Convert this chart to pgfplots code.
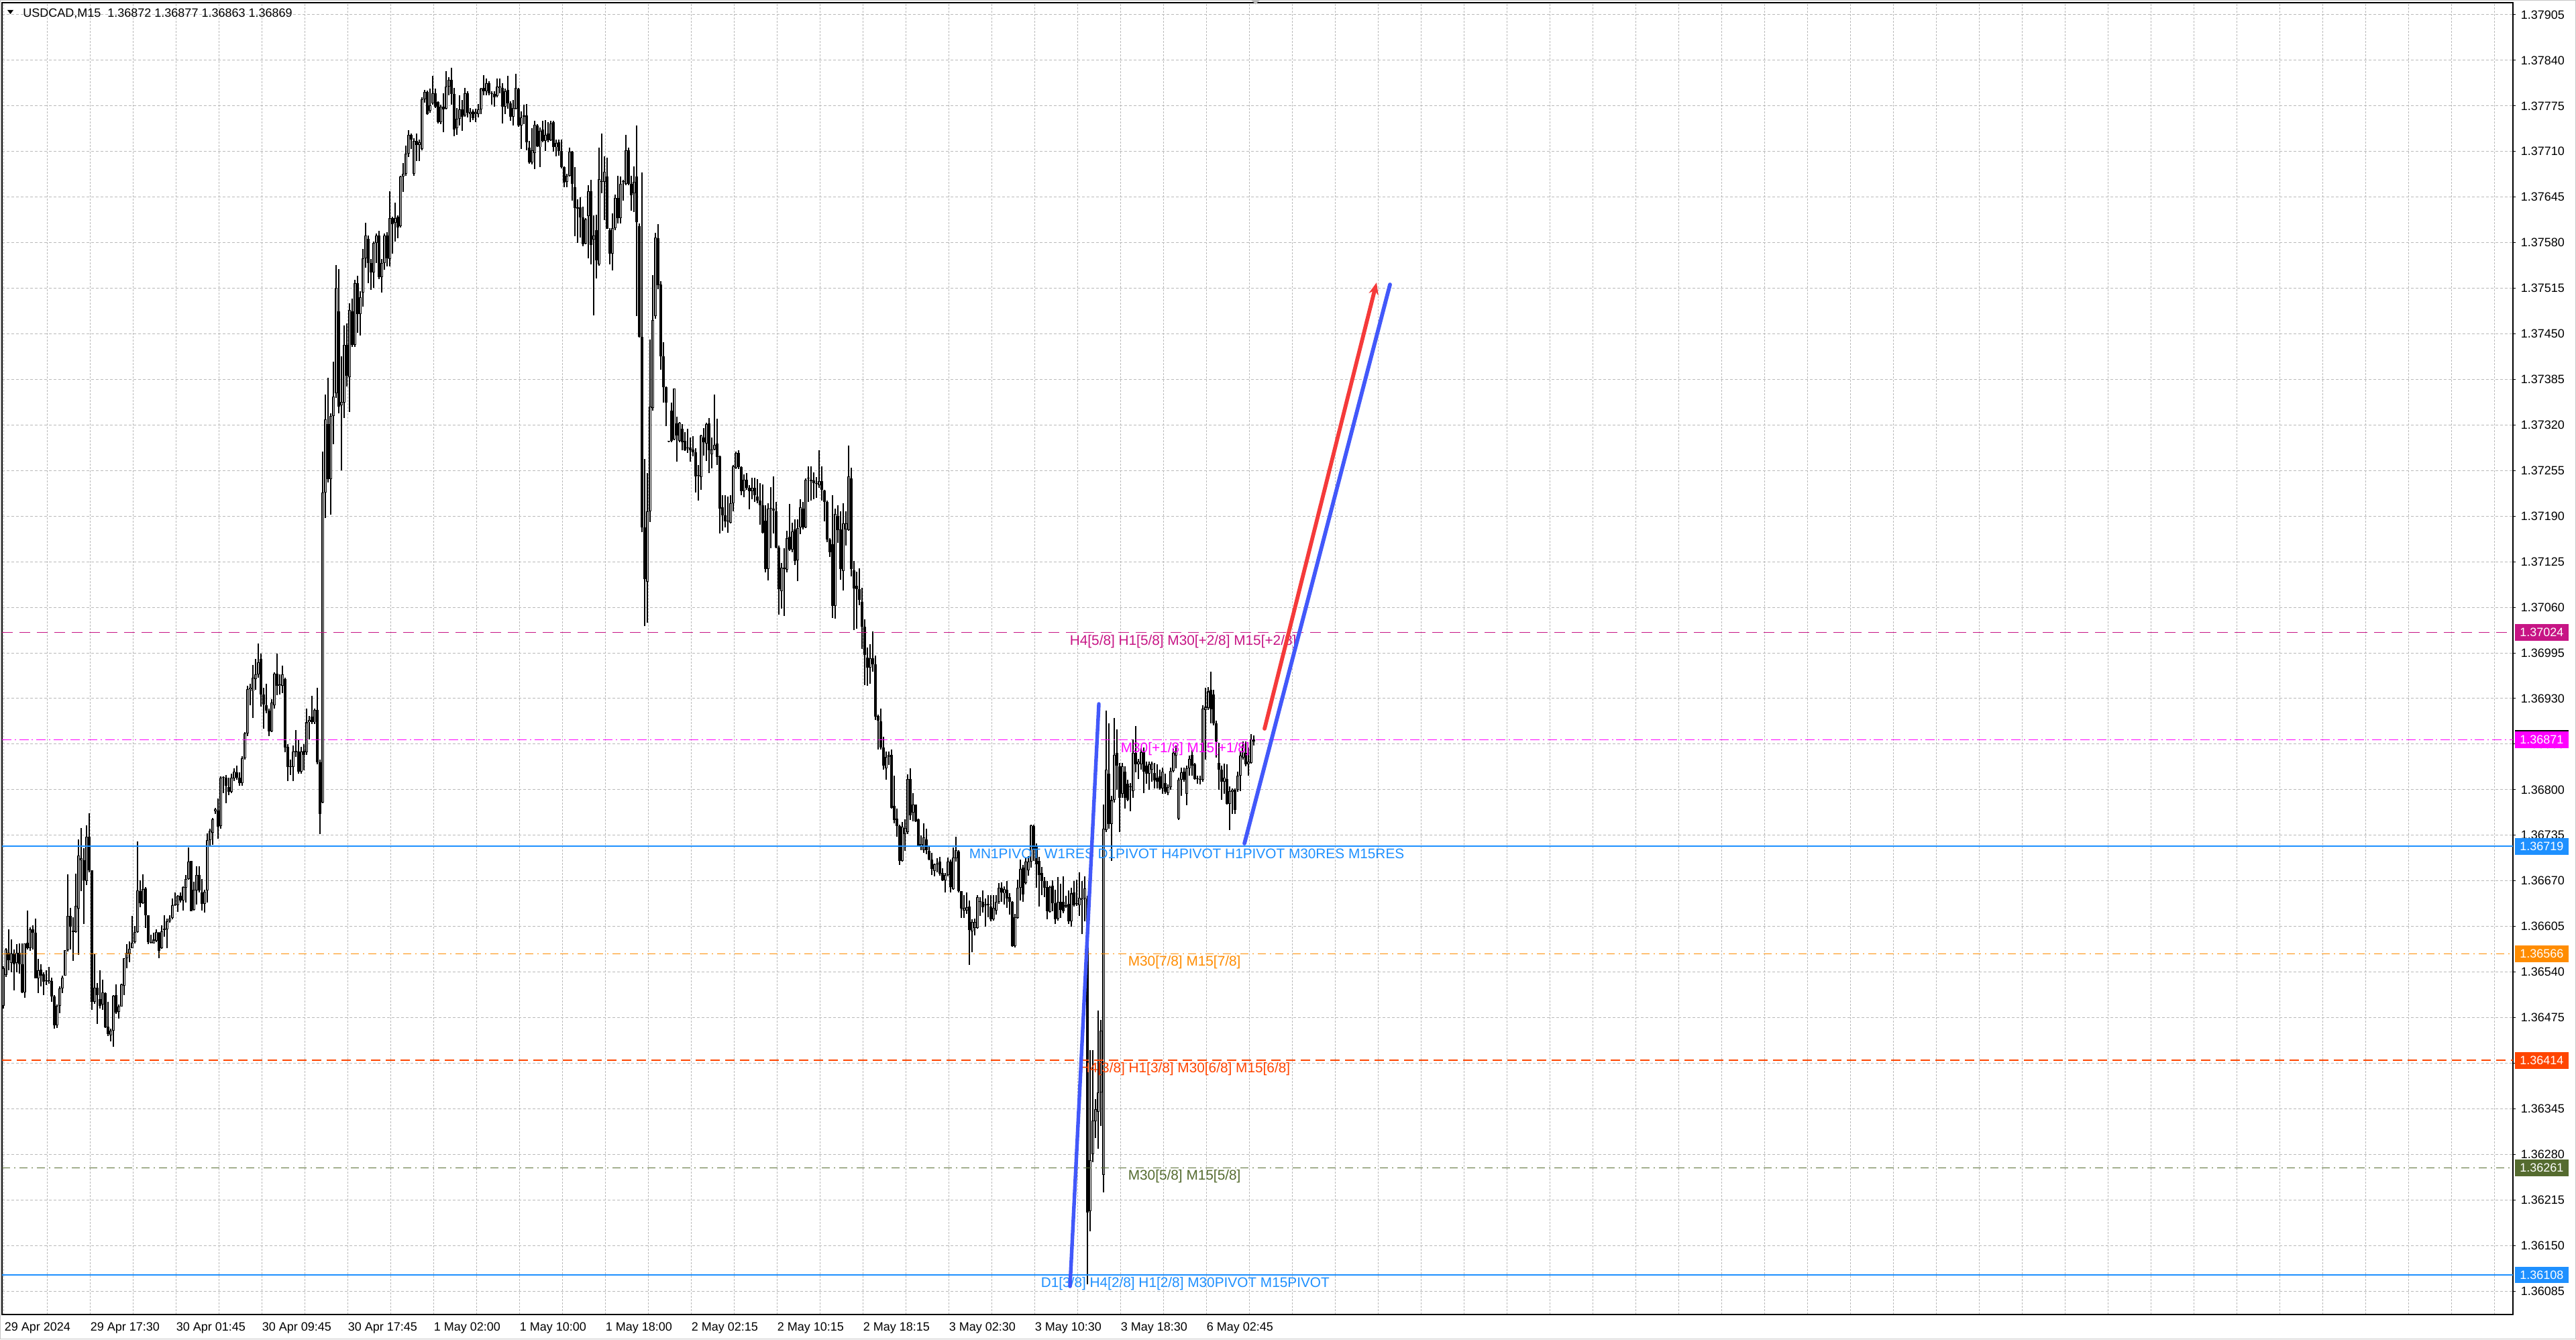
\documentclass[border=0pt]{standalone}
\usepackage{pgfplots}
\pgfplotsset{compat=1.18}
\usepackage{pgfplotstable}
\usepackage{fontspec}
\setmainfont{Liberation Sans}
\usetikzlibrary{arrows.meta}
\definecolor{mvr}{RGB}{199,21,133}
\definecolor{mag}{RGB}{255,0,255}
\definecolor{dblue}{RGB}{30,144,255}
\definecolor{dorange}{RGB}{255,140,0}
\definecolor{ored}{RGB}{255,69,0}
\definecolor{olivelvl}{RGB}{85,107,47}
\definecolor{tblue}{RGB}{66,88,250}
\definecolor{tred}{RGB}{245,58,58}
\newcommand{\tickfont}{\fontsize{4.5}{5}\selectfont}
\newcommand{\lblfont}{\fontsize{5.2}{6}\selectfont}

\pgfplotstableread{
i o h l c
0 1.36492 1.36548 1.36488 1.36545
1 1.36536 1.36574 1.36533 1.36572
2 1.36567 1.36601 1.36542 1.36557
3 1.36553 1.36586 1.36540 1.36566
4 1.36566 1.36572 1.36514 1.36551
5 1.36553 1.36580 1.36540 1.36567
6 1.36567 1.36581 1.36538 1.36551
7 1.36551 1.36581 1.36510 1.36511
8 1.36511 1.36581 1.36503 1.36581
9 1.36582 1.36628 1.36572 1.36574
10 1.36574 1.36604 1.36570 1.36601
11 1.36601 1.36607 1.36572 1.36596
12 1.36596 1.36616 1.36531 1.36531
13 1.36531 1.36559 1.36510 1.36542
14 1.36543 1.36551 1.36519 1.36535
15 1.36537 1.36540 1.36507 1.36526
16 1.36527 1.36542 1.36521 1.36526
17 1.36526 1.36547 1.36523 1.36528
18 1.36527 1.36532 1.36497 1.36505
19 1.36505 1.36507 1.36459 1.36464
20 1.36464 1.36494 1.36460 1.36492
21 1.36492 1.36519 1.36481 1.36517
22 1.36517 1.36535 1.36510 1.36532
23 1.36535 1.36571 1.36535 1.36571
24 1.36571 1.36679 1.36569 1.36620
25 1.36620 1.36631 1.36572 1.36605
26 1.36599 1.36618 1.36556 1.36597
27 1.36597 1.36680 1.36596 1.36634
28 1.36630 1.36729 1.36564 1.36706
29 1.36699 1.36745 1.36655 1.36702
30 1.36699 1.36717 1.36608 1.36671
31 1.36670 1.36749 1.36664 1.36733
32 1.36733 1.36766 1.36682 1.36685
33 1.36685 1.36685 1.36486 1.36497
34 1.36497 1.36566 1.36495 1.36518
35 1.36518 1.36524 1.36466 1.36507
36 1.36501 1.36542 1.36488 1.36492
37 1.36494 1.36529 1.36486 1.36511
38 1.36510 1.36511 1.36460 1.36461
39 1.36462 1.36497 1.36449 1.36452
40 1.36450 1.36459 1.36441 1.36456
41 1.36456 1.36507 1.36433 1.36506
42 1.36507 1.36522 1.36480 1.36482
43 1.36483 1.36494 1.36474 1.36491
44 1.36491 1.36523 1.36491 1.36522
45 1.36520 1.36560 1.36507 1.36560
46 1.36560 1.36580 1.36545 1.36567
47 1.36566 1.36584 1.36554 1.36573
48 1.36574 1.36620 1.36574 1.36582
49 1.36583 1.36606 1.36581 1.36597
50 1.36597 1.36726 1.36596 1.36656
51 1.36655 1.36671 1.36632 1.36638
52 1.36638 1.36679 1.36637 1.36658
53 1.36659 1.36661 1.36603 1.36621
54 1.36621 1.36621 1.36580 1.36583
55 1.36583 1.36593 1.36581 1.36582
56 1.36581 1.36596 1.36581 1.36586
57 1.36585 1.36601 1.36583 1.36597
58 1.36596 1.36597 1.36560 1.36570
59 1.36574 1.36607 1.36573 1.36598
60 1.36602 1.36621 1.36590 1.36600
61 1.36601 1.36616 1.36574 1.36612
62 1.36612 1.36621 1.36610 1.36616
63 1.36617 1.36645 1.36615 1.36635
64 1.36636 1.36653 1.36634 1.36635
65 1.36635 1.36650 1.36626 1.36649
66 1.36649 1.36653 1.36639 1.36642
67 1.36642 1.36662 1.36628 1.36661
68 1.36660 1.36678 1.36639 1.36673
69 1.36673 1.36718 1.36672 1.36697
70 1.36698 1.36698 1.36627 1.36627
71 1.36629 1.36669 1.36628 1.36657
72 1.36656 1.36691 1.36636 1.36678
73 1.36678 1.36691 1.36653 1.36656
74 1.36653 1.36673 1.36628 1.36637
75 1.36637 1.36657 1.36625 1.36654
76 1.36656 1.36738 1.36639 1.36728
77 1.36728 1.36744 1.36720 1.36741
78 1.36739 1.36760 1.36721 1.36758
79 1.36769 1.36774 1.36765 1.36772
80 1.36770 1.36787 1.36730 1.36747
81 1.36748 1.36819 1.36744 1.36817
82 1.36817 1.36819 1.36795 1.36818
83 1.36817 1.36821 1.36781 1.36806
84 1.36804 1.36817 1.36792 1.36797
85 1.36797 1.36823 1.36795 1.36817
86 1.36816 1.36830 1.36812 1.36826
87 1.36825 1.36834 1.36814 1.36817
88 1.36817 1.36825 1.36806 1.36809
89 1.36809 1.36848 1.36806 1.36845
90 1.36845 1.36882 1.36843 1.36880
91 1.36880 1.36948 1.36876 1.36943
92 1.36943 1.36951 1.36920 1.36945
93 1.36940 1.36978 1.36902 1.36960
94 1.36958 1.36986 1.36942 1.36964
95 1.36964 1.37008 1.36960 1.36982
96 1.36986 1.36994 1.36918 1.36936
97 1.36936 1.36945 1.36887 1.36921
98 1.36920 1.36951 1.36909 1.36913
99 1.36913 1.36916 1.36876 1.36883
100 1.36883 1.36929 1.36882 1.36924
101 1.36920 1.36967 1.36916 1.36965
102 1.36965 1.36994 1.36935 1.36948
103 1.36948 1.36964 1.36936 1.36950
104 1.36948 1.36977 1.36938 1.36964
105 1.36958 1.36960 1.36853 1.36860
106 1.36861 1.36865 1.36812 1.36832
107 1.36832 1.36843 1.36821 1.36832
108 1.36832 1.36863 1.36812 1.36854
109 1.36855 1.36885 1.36847 1.36853
110 1.36854 1.36872 1.36823 1.36826
111 1.36826 1.36861 1.36823 1.36854
112 1.36855 1.36865 1.36828 1.36850
113 1.36853 1.36916 1.36850 1.36896
114 1.36896 1.36905 1.36872 1.36899
115 1.36904 1.36934 1.36894 1.36896
116 1.36896 1.36916 1.36894 1.36914
117 1.36914 1.36945 1.36836 1.36839
118 1.36839 1.36843 1.36737 1.36765
119 1.36782 1.37282 1.36781 1.37224
120 1.37224 1.37363 1.37187 1.37328
121 1.37321 1.37387 1.37238 1.37243
122 1.37243 1.37337 1.37192 1.37333
123 1.37333 1.37410 1.37293 1.37361
124 1.37365 1.37548 1.37359 1.37516
125 1.37482 1.37542 1.37337 1.37346
126 1.37348 1.37418 1.37255 1.37353
127 1.37352 1.37462 1.37330 1.37434
128 1.37434 1.37465 1.37375 1.37390
129 1.37388 1.37494 1.37339 1.37484
130 1.37482 1.37500 1.37431 1.37434
131 1.37434 1.37527 1.37431 1.37522
132 1.37522 1.37533 1.37451 1.37478
133 1.37478 1.37511 1.37448 1.37502
134 1.37509 1.37571 1.37489 1.37558
135 1.37558 1.37608 1.37544 1.37590
136 1.37585 1.37590 1.37522 1.37551
137 1.37551 1.37557 1.37513 1.37538
138 1.37538 1.37582 1.37516 1.37580
139 1.37580 1.37593 1.37551 1.37590
140 1.37590 1.37597 1.37528 1.37531
141 1.37531 1.37557 1.37509 1.37551
142 1.37551 1.37593 1.37541 1.37590
143 1.37590 1.37595 1.37546 1.37558
144 1.37557 1.37653 1.37546 1.37615
145 1.37615 1.37617 1.37564 1.37606
146 1.37608 1.37637 1.37582 1.37615
147 1.37617 1.37619 1.37586 1.37602
148 1.37604 1.37675 1.37602 1.37674
149 1.37674 1.37694 1.37652 1.37678
150 1.37678 1.37718 1.37675 1.37707
151 1.37707 1.37740 1.37702 1.37734
152 1.37734 1.37736 1.37714 1.37727
153 1.37678 1.37729 1.37675 1.37725
154 1.37725 1.37736 1.37696 1.37719
155 1.37719 1.37727 1.37696 1.37723
156 1.37714 1.37787 1.37712 1.37784
157 1.37784 1.37798 1.37780 1.37795
158 1.37795 1.37797 1.37762 1.37763
159 1.37768 1.37800 1.37765 1.37776
160 1.37779 1.37818 1.37777 1.37793
161 1.37793 1.37800 1.37772 1.37774
162 1.37781 1.37782 1.37750 1.37752
163 1.37752 1.37777 1.37749 1.37774
164 1.37774 1.37793 1.37738 1.37770
165 1.37771 1.37825 1.37770 1.37803
166 1.37803 1.37816 1.37790 1.37812
167 1.37812 1.37829 1.37777 1.37792
168 1.37792 1.37801 1.37732 1.37741
169 1.37743 1.37772 1.37734 1.37757
170 1.37757 1.37790 1.37747 1.37770
171 1.37770 1.37783 1.37739 1.37760
172 1.37761 1.37801 1.37760 1.37793
173 1.37793 1.37796 1.37759 1.37765
174 1.37763 1.37772 1.37752 1.37766
175 1.37767 1.37770 1.37755 1.37758
176 1.37763 1.37771 1.37752 1.37766
177 1.37763 1.37778 1.37759 1.37770
178 1.37770 1.37801 1.37763 1.37800
179 1.37801 1.37819 1.37790 1.37796
180 1.37796 1.37814 1.37790 1.37807
181 1.37807 1.37810 1.37790 1.37793
182 1.37793 1.37796 1.37777 1.37792
183 1.37792 1.37796 1.37774 1.37787
184 1.37789 1.37814 1.37787 1.37803
185 1.37801 1.37814 1.37793 1.37803
186 1.37801 1.37807 1.37750 1.37774
187 1.37774 1.37800 1.37763 1.37796
188 1.37798 1.37818 1.37771 1.37779
189 1.37779 1.37782 1.37754 1.37760
190 1.37760 1.37783 1.37747 1.37772
191 1.37771 1.37821 1.37770 1.37801
192 1.37799 1.37801 1.37745 1.37747
193 1.37747 1.37767 1.37714 1.37759
194 1.37760 1.37777 1.37749 1.37760
195 1.37761 1.37778 1.37712 1.37723
196 1.37716 1.37725 1.37693 1.37694
197 1.37694 1.37743 1.37692 1.37712
198 1.37708 1.37754 1.37685 1.37748
199 1.37747 1.37749 1.37716 1.37717
200 1.37716 1.37744 1.37688 1.37739
201 1.37741 1.37754 1.37723 1.37725
202 1.37725 1.37755 1.37711 1.37734
203 1.37736 1.37752 1.37723 1.37726
204 1.37726 1.37754 1.37725 1.37750
205 1.37752 1.37754 1.37710 1.37716
206 1.37716 1.37727 1.37703 1.37722
207 1.37723 1.37727 1.37704 1.37711
208 1.37711 1.37727 1.37686 1.37688
209 1.37688 1.37689 1.37659 1.37666
210 1.37667 1.37678 1.37659 1.37675
211 1.37675 1.37716 1.37674 1.37710
212 1.37710 1.37711 1.37640 1.37664
213 1.37659 1.37688 1.37589 1.37629
214 1.37630 1.37642 1.37580 1.37628
215 1.37630 1.37645 1.37587 1.37616
216 1.37616 1.37631 1.37575 1.37578
217 1.37579 1.37615 1.37578 1.37613
218 1.37618 1.37662 1.37558 1.37653
219 1.37653 1.37670 1.37549 1.37577
220 1.37584 1.37619 1.37476 1.37590
221 1.37598 1.37620 1.37529 1.37555
222 1.37549 1.37716 1.37547 1.37671
223 1.37667 1.37736 1.37650 1.37667
224 1.37667 1.37703 1.37612 1.37681
225 1.37674 1.37701 1.37600 1.37600
226 1.37598 1.37601 1.37549 1.37564
227 1.37564 1.37622 1.37540 1.37601
228 1.37601 1.37649 1.37598 1.37644
229 1.37644 1.37675 1.37607 1.37615
230 1.37615 1.37674 1.37607 1.37664
231 1.37667 1.37670 1.37640 1.37667
232 1.37664 1.37734 1.37662 1.37712
233 1.37712 1.37716 1.37662 1.37664
234 1.37664 1.37675 1.37626 1.37648
235 1.37650 1.37689 1.37624 1.37667
236 1.37674 1.37747 1.37475 1.37609
237 1.37604 1.37607 1.37445 1.37446
238 1.37446 1.37680 1.37167 1.37174
239 1.37174 1.37272 1.37033 1.37100
240 1.37096 1.37251 1.37038 1.37197
241 1.37197 1.37442 1.37182 1.37346
242 1.37344 1.37534 1.37340 1.37470
243 1.37475 1.37594 1.37472 1.37587
244 1.37586 1.37606 1.37514 1.37519
245 1.37520 1.37525 1.37399 1.37418
246 1.37418 1.37438 1.37352 1.37374
247 1.37374 1.37375 1.37318 1.37352
248 1.37296 1.37297 1.37295 1.37296
249 1.37340 1.37352 1.37295 1.37297
250 1.37299 1.37372 1.37298 1.37372
251 1.37322 1.37332 1.37268 1.37305
252 1.37297 1.37324 1.37295 1.37323
253 1.37315 1.37321 1.37284 1.37295
254 1.37297 1.37310 1.37283 1.37284
255 1.37287 1.37315 1.37280 1.37286
256 1.37288 1.37302 1.37268 1.37284
257 1.37285 1.37304 1.37275 1.37281
258 1.37281 1.37287 1.37224 1.37247
259 1.37248 1.37263 1.37212 1.37248
260 1.37246 1.37306 1.37228 1.37305
261 1.37302 1.37316 1.37276 1.37295
262 1.37294 1.37323 1.37269 1.37321
263 1.37322 1.37330 1.37251 1.37284
264 1.37278 1.37302 1.37258 1.37285
265 1.37285 1.37363 1.37284 1.37292
266 1.37294 1.37329 1.37263 1.37274
267 1.37275 1.37276 1.37165 1.37201
268 1.37203 1.37220 1.37169 1.37191
269 1.37191 1.37220 1.37174 1.37183
270 1.37183 1.37218 1.37166 1.37183
271 1.37181 1.37220 1.37180 1.37208
272 1.37208 1.37263 1.37197 1.37261
273 1.37259 1.37282 1.37257 1.37280
274 1.37280 1.37284 1.37257 1.37260
275 1.37260 1.37261 1.37220 1.37226
276 1.37226 1.37250 1.37217 1.37242
277 1.37242 1.37251 1.37228 1.37230
278 1.37230 1.37234 1.37200 1.37226
279 1.37226 1.37245 1.37214 1.37230
280 1.37230 1.37245 1.37210 1.37220
281 1.37218 1.37243 1.37208 1.37212
282 1.37212 1.37237 1.37178 1.37206
283 1.37206 1.37235 1.37165 1.37166
284 1.37184 1.37206 1.37110 1.37115
285 1.37115 1.37208 1.37098 1.37201
286 1.37201 1.37231 1.37144 1.37201
287 1.37201 1.37247 1.37165 1.37198
288 1.37197 1.37210 1.37144 1.37145
289 1.37145 1.37148 1.37050 1.37086
290 1.37083 1.37123 1.37058 1.37117
291 1.37117 1.37144 1.37048 1.37115
292 1.37114 1.37169 1.37110 1.37159
293 1.37161 1.37207 1.37140 1.37142
294 1.37142 1.37181 1.37139 1.37168
295 1.37171 1.37185 1.37120 1.37126
296 1.37127 1.37185 1.37097 1.37173
297 1.37174 1.37214 1.37164 1.37203
298 1.37201 1.37210 1.37171 1.37174
299 1.37174 1.37244 1.37173 1.37242
300 1.37244 1.37261 1.37210 1.37244
301 1.37242 1.37261 1.37212 1.37240
302 1.37241 1.37252 1.37214 1.37237
303 1.37236 1.37246 1.37216 1.37236
304 1.37234 1.37284 1.37230 1.37240
305 1.37240 1.37261 1.37212 1.37228
306 1.37227 1.37228 1.37183 1.37210
307 1.37210 1.37212 1.37153 1.37157
308 1.37157 1.37159 1.37132 1.37139
309 1.37150 1.37220 1.37045 1.37062
310 1.37062 1.37201 1.37044 1.37193
311 1.37190 1.37206 1.37152 1.37170
312 1.37171 1.37197 1.37099 1.37115
313 1.37112 1.37208 1.37084 1.37180
314 1.37171 1.37197 1.37148 1.37180
315 1.37170 1.37291 1.37169 1.37247
316 1.37244 1.37259 1.37104 1.37115
317 1.37113 1.37126 1.37028 1.37087
318 1.37091 1.37111 1.37029 1.37086
319 1.37086 1.37116 1.37063 1.37071
320 1.37068 1.37088 1.37001 1.37032
321 1.37032 1.37043 1.36949 1.36992
322 1.36988 1.37003 1.36948 1.36974
323 1.36974 1.37007 1.36951 1.36987
324 1.36987 1.37026 1.36968 1.36979
325 1.36979 1.36991 1.36899 1.36904
326 1.36905 1.36907 1.36857 1.36898
327 1.36897 1.36916 1.36857 1.36860
328 1.36860 1.36875 1.36829 1.36834
329 1.36830 1.36854 1.36814 1.36847
330 1.36847 1.36854 1.36835 1.36850
331 1.36850 1.36857 1.36773 1.36774
332 1.36777 1.36820 1.36752 1.36757
333 1.36759 1.36773 1.36733 1.36748
334 1.36748 1.36750 1.36693 1.36698
335 1.36698 1.36754 1.36697 1.36747
336 1.36737 1.36758 1.36713 1.36745
337 1.36740 1.36822 1.36737 1.36815
338 1.36815 1.36830 1.36757 1.36763
339 1.36767 1.36795 1.36755 1.36779
340 1.36779 1.36779 1.36754 1.36755
341 1.36758 1.36759 1.36719 1.36720
342 1.36719 1.36735 1.36714 1.36722
343 1.36714 1.36752 1.36710 1.36732
344 1.36729 1.36744 1.36708 1.36714
345 1.36713 1.36720 1.36699 1.36700
346 1.36700 1.36710 1.36678 1.36687
347 1.36684 1.36695 1.36676 1.36694
348 1.36694 1.36702 1.36682 1.36694
349 1.36697 1.36704 1.36677 1.36680
350 1.36681 1.36688 1.36670 1.36671
351 1.36671 1.36681 1.36653 1.36678
352 1.36678 1.36703 1.36676 1.36697
353 1.36697 1.36700 1.36653 1.36661
354 1.36658 1.36718 1.36657 1.36703
355 1.36702 1.36733 1.36697 1.36714
356 1.36712 1.36714 1.36653 1.36655
357 1.36655 1.36655 1.36617 1.36630
358 1.36628 1.36650 1.36617 1.36631
359 1.36628 1.36653 1.36623 1.36632
360 1.36633 1.36642 1.36550 1.36600
361 1.36598 1.36615 1.36568 1.36611
362 1.36603 1.36616 1.36592 1.36611
363 1.36603 1.36650 1.36602 1.36647
364 1.36640 1.36647 1.36620 1.36640
365 1.36640 1.36656 1.36625 1.36632
366 1.36635 1.36645 1.36605 1.36635
367 1.36637 1.36650 1.36618 1.36635
368 1.36633 1.36650 1.36612 1.36615
369 1.36615 1.36650 1.36613 1.36631
370 1.36628 1.36650 1.36622 1.36640
371 1.36640 1.36667 1.36637 1.36660
372 1.36660 1.36668 1.36640 1.36653
373 1.36652 1.36662 1.36636 1.36658
374 1.36657 1.36670 1.36631 1.36645
375 1.36647 1.36652 1.36622 1.36640
376 1.36640 1.36641 1.36576 1.36577
377 1.36577 1.36623 1.36575 1.36618
378 1.36617 1.36672 1.36616 1.36660
379 1.36660 1.36700 1.36642 1.36687
380 1.36689 1.36693 1.36640 1.36651
381 1.36667 1.36702 1.36665 1.36697
382 1.36685 1.36705 1.36677 1.36697
383 1.36697 1.36750 1.36689 1.36749
384 1.36748 1.36750 1.36698 1.36715
385 1.36720 1.36723 1.36660 1.36694
386 1.36698 1.36704 1.36633 1.36678
387 1.36681 1.36690 1.36650 1.36670
388 1.36670 1.36675 1.36647 1.36660
389 1.36661 1.36670 1.36615 1.36627
390 1.36626 1.36663 1.36625 1.36661
391 1.36663 1.36671 1.36627 1.36638
392 1.36638 1.36657 1.36608 1.36615
393 1.36616 1.36675 1.36613 1.36640
394 1.36640 1.36666 1.36617 1.36629
395 1.36640 1.36676 1.36624 1.36627
396 1.36635 1.36649 1.36631 1.36633
397 1.36637 1.36656 1.36608 1.36612
398 1.36612 1.36660 1.36605 1.36652
399 1.36653 1.36670 1.36633 1.36635
400 1.36637 1.36672 1.36634 1.36637
401 1.36635 1.36682 1.36620 1.36646
402 1.36643 1.36670 1.36594 1.36645
403 1.36645 1.36676 1.36612 1.36659
404 1.36645 1.36649 1.36095 1.36197
405 1.36199 1.36429 1.36170 1.36272
406 1.36280 1.36429 1.36269 1.36328
407 1.36327 1.36359 1.36303 1.36344
408 1.36341 1.36485 1.36288 1.36368
409 1.36368 1.36472 1.36320 1.36456
410 1.36251 1.36779 1.36226 1.36744
411 1.36742 1.36913 1.36740 1.36829
412 1.36823 1.36895 1.36744 1.36751
413 1.36751 1.36791 1.36698 1.36785
414 1.36785 1.36902 1.36782 1.36850
415 1.36852 1.36886 1.36800 1.36834
416 1.36833 1.36838 1.36740 1.36788
417 1.36794 1.36838 1.36788 1.36833
418 1.36826 1.36833 1.36773 1.36788
419 1.36808 1.36814 1.36784 1.36785
420 1.36805 1.36809 1.36769 1.36804
421 1.36798 1.36872 1.36788 1.36852
422 1.36852 1.36891 1.36825 1.36836
423 1.36836 1.36844 1.36815 1.36840
424 1.36836 1.36859 1.36829 1.36853
425 1.36853 1.36860 1.36795 1.36826
426 1.36834 1.36840 1.36808 1.36823
427 1.36823 1.36840 1.36800 1.36836
428 1.36829 1.36840 1.36811 1.36837
429 1.36824 1.36838 1.36802 1.36813
430 1.36817 1.36836 1.36802 1.36811
431 1.36819 1.36829 1.36800 1.36802
432 1.36802 1.36831 1.36794 1.36826
433 1.36809 1.36823 1.36794 1.36797
434 1.36795 1.36807 1.36792 1.36804
435 1.36804 1.36831 1.36800 1.36827
436 1.36827 1.36858 1.36825 1.36852
437 1.36849 1.36863 1.36830 1.36855
438 1.36759 1.36817 1.36757 1.36814
439 1.36814 1.36831 1.36791 1.36825
440 1.36826 1.36831 1.36811 1.36814
441 1.36794 1.36834 1.36778 1.36830
442 1.36830 1.36849 1.36820 1.36844
443 1.36850 1.36856 1.36820 1.36834
444 1.36836 1.36838 1.36814 1.36815
445 1.36816 1.36820 1.36808 1.36815
446 1.36814 1.36820 1.36807 1.36815
447 1.36814 1.36920 1.36811 1.36916
448 1.36914 1.36945 1.36843 1.36918
449 1.36917 1.36946 1.36914 1.36940
450 1.36942 1.36968 1.36895 1.36915
451 1.36936 1.36942 1.36892 1.36895
452 1.36895 1.36898 1.36846 1.36869
453 1.36838 1.36867 1.36800 1.36829
454 1.36829 1.36834 1.36785 1.36811
455 1.36811 1.36837 1.36794 1.36817
456 1.36815 1.36836 1.36779 1.36780
457 1.36780 1.36805 1.36742 1.36798
458 1.36797 1.36802 1.36765 1.36800
459 1.36800 1.36802 1.36765 1.36771
460 1.36800 1.36826 1.36797 1.36820
461 1.36820 1.36855 1.36798 1.36849
462 1.36846 1.36869 1.36843 1.36863
463 1.36852 1.36869 1.36833 1.36836
464 1.36836 1.36860 1.36820 1.36840
465 1.36838 1.36879 1.36837 1.36872
466 1.36872 1.36877 1.36863 1.36869
}\candles

\pgfplotsset{
  chartbox/.style={
    at={(0.75pt,9.25pt)}, anchor=south west,
    scale only axis, width=935.75pt, height=488.75pt,
    xmin=-0.5, xmax=935.25, ymin=1.3605155, ymax=1.379222,
  },
  candlebar/.style={only marks, mark=text, text mark={}, forget plot}
}

\begin{document}
\begin{tikzpicture}
\path[use as bounding box, fill=white] (0,0) rectangle (960pt,499pt);
\draw[gray!45, line width=0.3pt] (0.15pt,0.15pt) rectangle (959.85pt,498.85pt);
\begin{axis}[chartbox,
  clip mode=individual,
  axis line style={black, line width=0.3pt},
  tick align=outside,
  major tick length=1pt,
  minor tick length=0pt,
  xtick={0.25,32.25,64.25,96.25,128.25,160.25,192.25,224.25,256.25,288.25,320.25,352.25,384.25,416.25,448.25},
  xticklabels={29 Apr 2024,29 Apr 17:30,30 Apr 01:45,30 Apr 09:45,30 Apr 17:45,1 May 02:00,1 May 10:00,1 May 18:00,2 May 02:15,2 May 10:15,2 May 18:15,3 May 02:30,3 May 10:30,3 May 18:30,6 May 02:45},
  minor xtick={0.25,16.25,...,928.25},
  xtick style={draw=none},
  xtick pos=bottom,
  xminorgrids=true,
  minor x grid style={gray!55, line width=0.25pt, dash pattern=on 0.75pt off 0.5pt},
  ytick={1.36085,1.36150,1.36215,1.36280,1.36345,1.36410,1.36475,1.36540,1.36605,1.36670,1.36735,1.36800,1.36865,1.36930,1.36995,1.37060,1.37125,1.37190,1.37255,1.37320,1.37385,1.37450,1.37515,1.37580,1.37645,1.37710,1.37775,1.37840,1.37905},
  yticklabels={1.36085,1.36150,1.36215,1.36280,1.36345,1.36410,1.36475,1.36540,1.36605,1.36670,1.36735,1.36800,1.36865,1.36930,1.36995,1.37060,1.37125,1.37190,1.37255,1.37320,1.37385,1.37450,1.37515,1.37580,1.37645,1.37710,1.37775,1.37840,1.37905},
  ytick pos=right,
  yticklabel pos=right,
  ytick style={black, line width=0.25pt},
  ymajorgrids=true,
  major y grid style={gray!55, line width=0.25pt, dash pattern=on 1pt off 0.75pt},
  yticklabel style={font=\tickfont, anchor=west, inner sep=0pt, xshift=1.75pt},
  xticklabel style={font=\tickfont, anchor=north west, inner sep=0pt, yshift=-1.75pt},
]
% wicks
\addplot[candlebar,
  error bars/.cd, y dir=plus, y explicit, error mark=none,
  error bar style={draw=black, line width=0.3pt, line cap=butt}]
  table[x=i, y=l, y error expr={\thisrow{h}-\thisrow{l}}] {\candles};
% bodies (outline / filled)
\addplot[candlebar,
  error bars/.cd, y dir=plus, y explicit, error mark=none,
  error bar style={draw=black, line width=0.8pt, line cap=butt}]
  table[x=i, y expr={min(\thisrow{o},\thisrow{c})}, y error expr={max(abs(\thisrow{c}-\thisrow{o}),0.00001)}] {\candles};
% hollow interior of rising candles
\addplot[candlebar,
  error bars/.cd, y dir=plus, y explicit, error mark=none,
  error bar style={draw=white, line width=0.25pt, line cap=butt}]
  table[x=i, y expr={\thisrow{o}+0.0000096}, y error expr={max(\thisrow{c}-\thisrow{o}-0.0000192,0)}] {\candles};

% level lines
\addplot[mvr, line width=0.35pt, dash pattern=on 4pt off 2.5pt] coordinates {(-0.5,1.37024) (935.25,1.37024)};
\addplot[mag, line width=0.35pt, dash pattern=on 3.5pt off 1.2pt on 0.5pt off 1.2pt] coordinates {(-0.5,1.36871) (935.25,1.36871)};
\addplot[dblue, line width=0.5pt] coordinates {(-0.5,1.36719) (935.25,1.36719)};
\addplot[dorange, line width=0.3pt, dash pattern=on 3pt off 1.5pt on 0.5pt off 1.5pt] coordinates {(-0.5,1.36566) (935.25,1.36566)};
\addplot[ored, line width=0.4pt, dash pattern=on 3.5pt off 2pt] coordinates {(-0.5,1.36414) (935.25,1.36414)};
\addplot[olivelvl, line width=0.3pt, dash pattern=on 3pt off 1.5pt on 0.5pt off 1.5pt] coordinates {(-0.5,1.36261) (935.25,1.36261)};
\addplot[dblue, line width=0.3pt] coordinates {(-0.5,1.36108) (935.25,1.36108)};

% level labels
\node[anchor=base west, inner sep=0pt, font=\lblfont, text=mvr, yshift=-4.6pt] at (axis cs:397.25,1.37024) {H4[5/8] H1[5/8] M30[+2/8] M15[+2/8]};
\node[anchor=base west, inner sep=0pt, font=\lblfont, text=mag, yshift=-4.6pt] at (axis cs:416.25,1.36871) {M30[+1/8] M15[+1/8]};
\node[anchor=base west, inner sep=0pt, font=\lblfont, text=dblue, yshift=-4.6pt] at (axis cs:359.75,1.36719) {MN1PIVOT W1RES D1PIVOT H4PIVOT H1PIVOT M30RES M15RES};
\node[anchor=base west, inner sep=0pt, font=\lblfont, text=dorange, yshift=-4.6pt] at (axis cs:419,1.36566) {M30[7/8] M15[7/8]};
\node[anchor=base west, inner sep=0pt, font=\lblfont, text=ored, yshift=-4.6pt] at (axis cs:401,1.36414) {H4[3/8] H1[3/8] M30[6/8] M15[6/8]};
\node[anchor=base west, inner sep=0pt, font=\lblfont, text=olivelvl, yshift=-4.6pt] at (axis cs:419,1.36261) {M30[5/8] M15[5/8]};
\node[anchor=base west, inner sep=0pt, font=\lblfont, text=dblue, yshift=-4.6pt] at (axis cs:386.5,1.36108) {D1[3/8] H4[2/8] H1[2/8] M30PIVOT M15PIVOT};
\end{axis}

\begin{axis}[chartbox, axis lines=none, clip mode=individual]
\addplot[tblue, line width=1.35pt, line cap=round] coordinates {(397.5,1.360917) (408.25,1.369223)};
\addplot[tblue, line width=1.45pt, line cap=round] coordinates {(462.5,1.367233) (516.75,1.375203)};
\addplot[tred, line width=1.45pt, line cap=round, -{Stealth[length=4.5pt, width=3.6pt]}] coordinates {(470,1.368869) (511.75,1.375232)};
% price tags
\node[fill=mvr, text=white, font=\tickfont, anchor=west, inner sep=0pt, minimum width=20pt, minimum height=6.2pt, xshift=0.5pt] at (axis cs:935.25,1.37024) {1.37024};
\node[fill=black, anchor=west, inner sep=0pt, minimum width=20pt, minimum height=6.2pt, xshift=0.5pt, yshift=0.5pt] at (axis cs:935.25,1.36871) {};
\node[fill=mag, text=white, font=\tickfont, anchor=west, inner sep=0pt, minimum width=20pt, minimum height=6.2pt, xshift=0.5pt] at (axis cs:935.25,1.36871) {1.36871};
\node[fill=dblue, text=white, font=\tickfont, anchor=west, inner sep=0pt, minimum width=20pt, minimum height=6.2pt, xshift=0.5pt] at (axis cs:935.25,1.36719) {1.36719};
\node[fill=dorange, text=white, font=\tickfont, anchor=west, inner sep=0pt, minimum width=20pt, minimum height=6.2pt, xshift=0.5pt] at (axis cs:935.25,1.36566) {1.36566};
\node[fill=ored, text=white, font=\tickfont, anchor=west, inner sep=0pt, minimum width=20pt, minimum height=6.2pt, xshift=0.5pt] at (axis cs:935.25,1.36414) {1.36414};
\node[fill=olivelvl, text=white, font=\tickfont, anchor=west, inner sep=0pt, minimum width=20pt, minimum height=6.2pt, xshift=0.5pt] at (axis cs:935.25,1.36261) {1.36261};
\node[fill=dblue, text=white, font=\tickfont, anchor=west, inner sep=0pt, minimum width=20pt, minimum height=6.2pt, xshift=0.5pt] at (axis cs:935.25,1.36108) {1.36108};
\end{axis}

% title
\fill[black] (2.75pt,495.25pt) -- (5pt,495.25pt) -- (3.875pt,493.75pt) -- cycle;
\node[anchor=base west, inner sep=0pt, font=\tickfont] at (8.4pt,492.6pt) {USDCAD,M15\ \ 1.36872 1.36877 1.36863 1.36869};
\fill[gray!55] (466.3pt,499pt) -- (469.5pt,499pt) -- (467.9pt,497.4pt) -- cycle;
\end{tikzpicture}
\end{document}
